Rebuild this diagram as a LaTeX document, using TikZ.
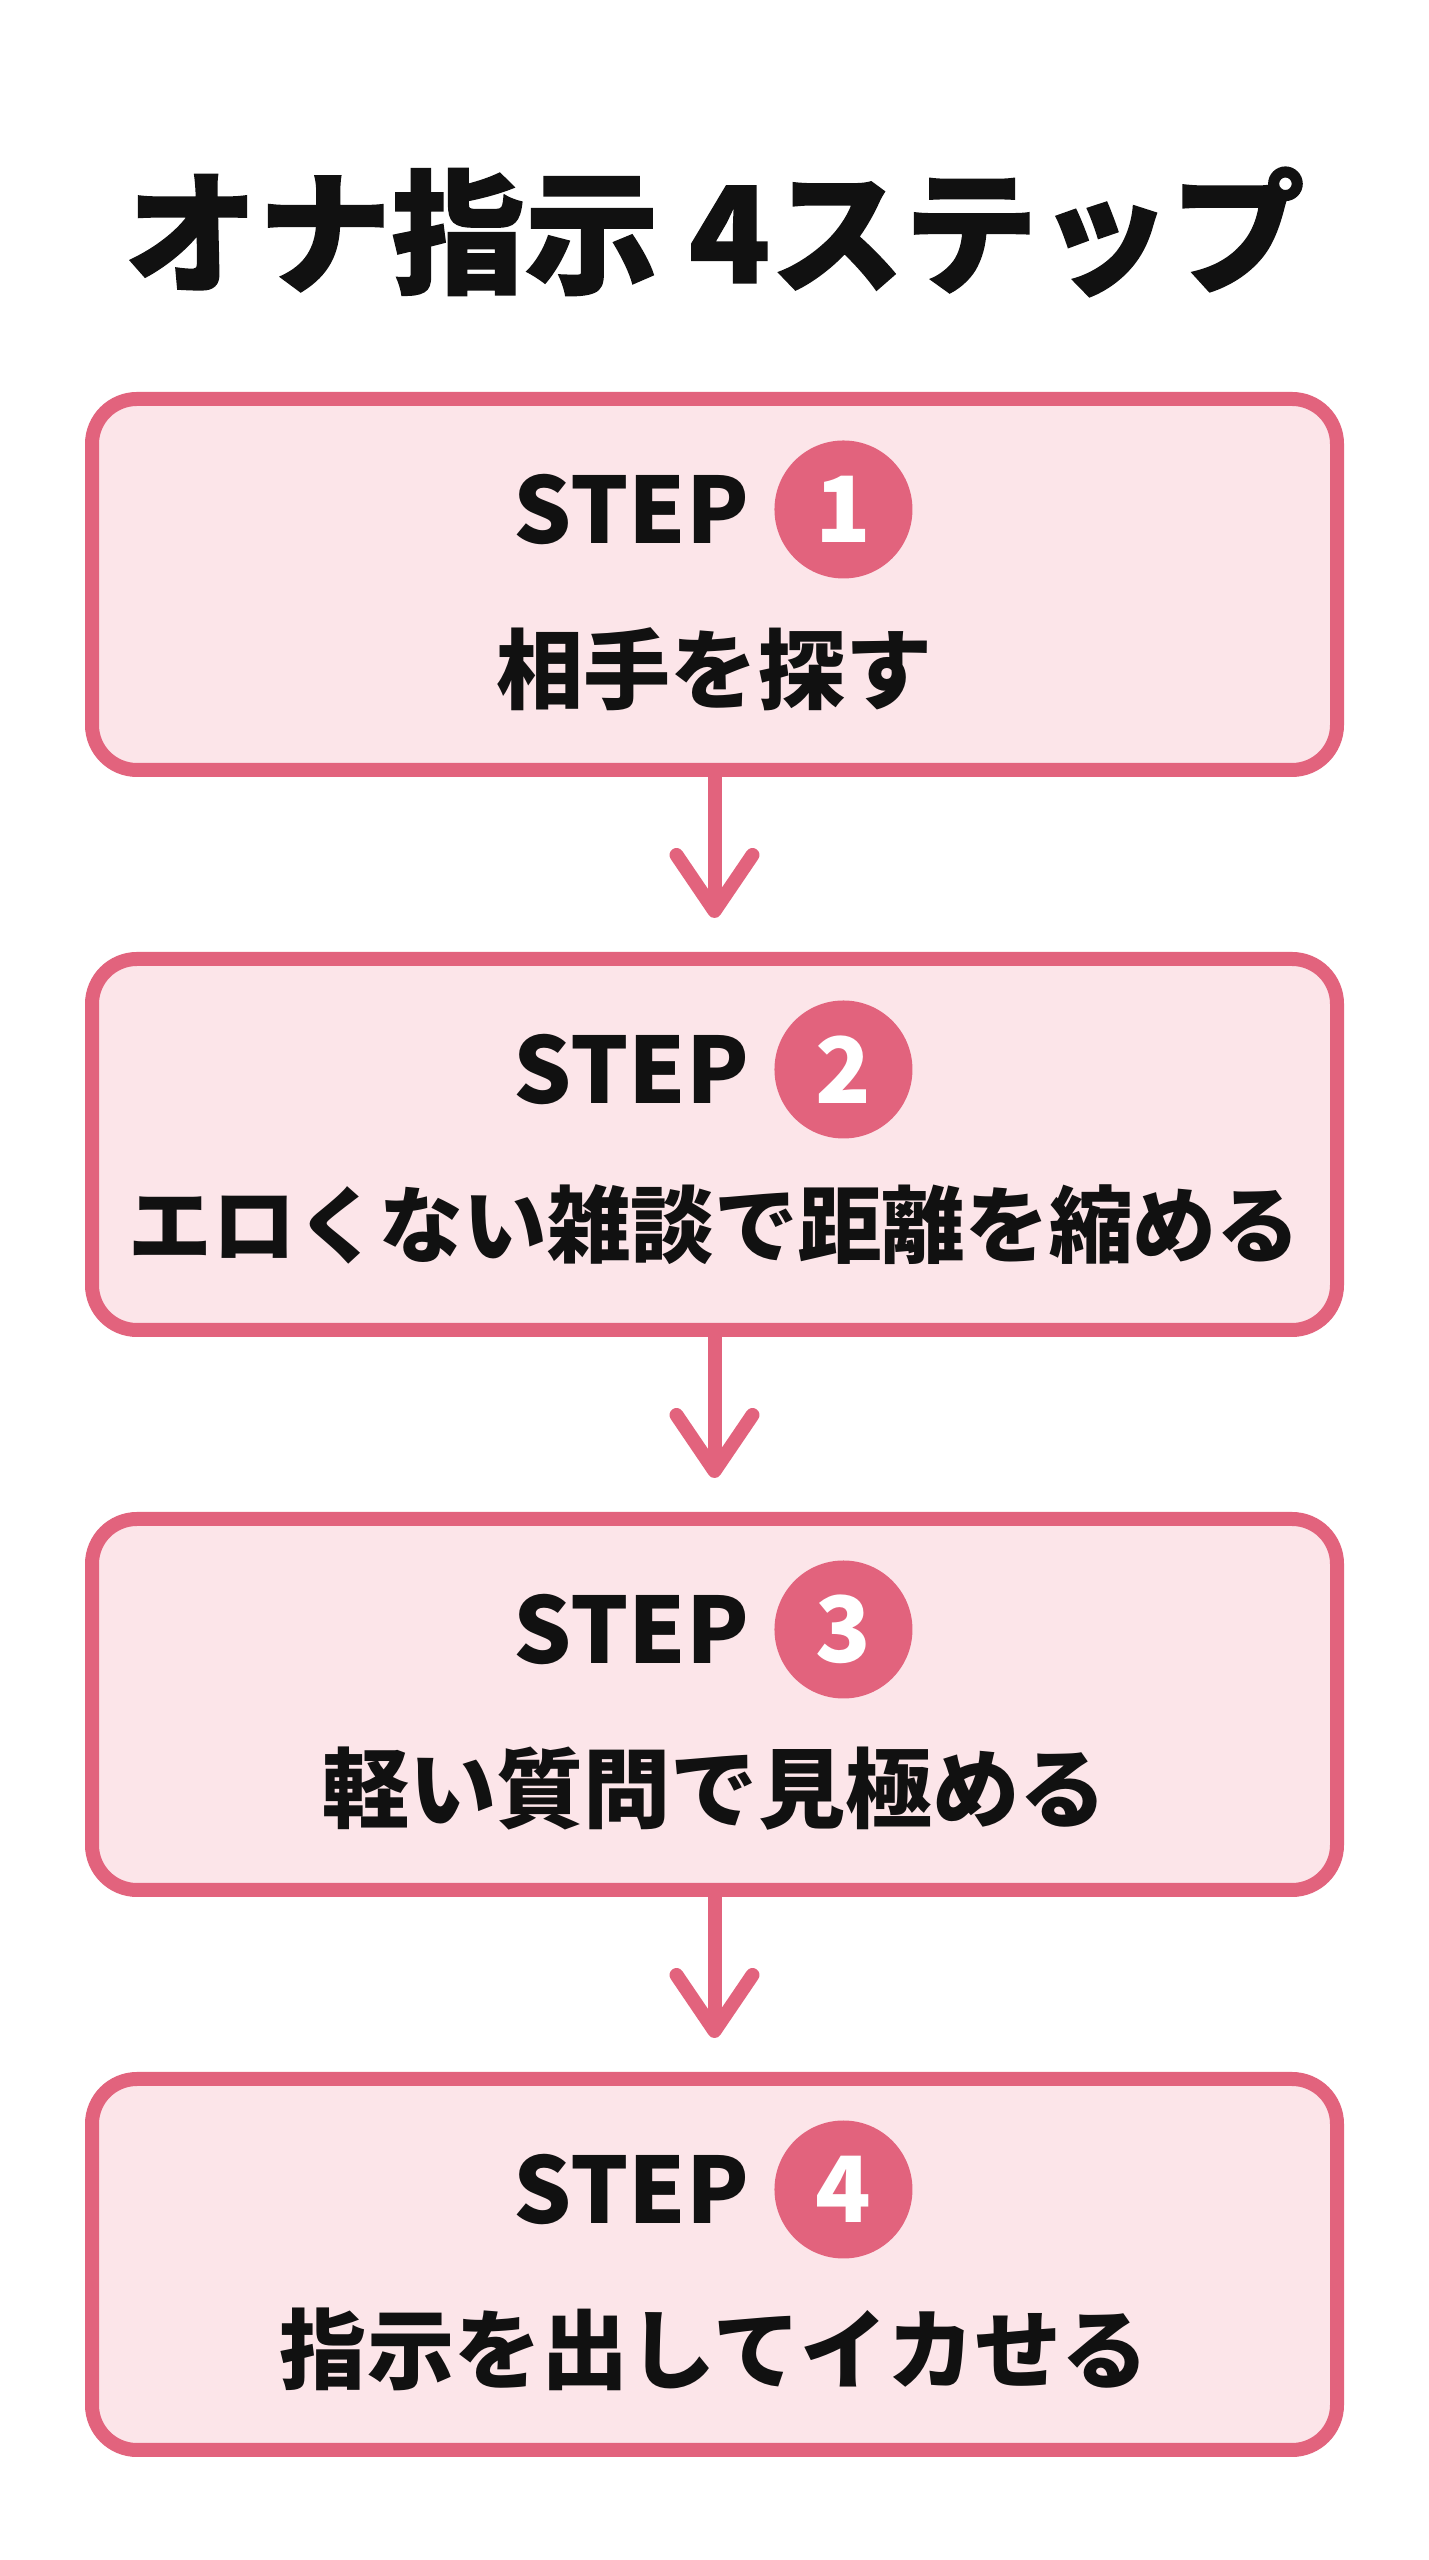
\documentclass[tikz,border=0pt]{standalone}
\usepackage{fontspec}
\setmainfont{Noto Sans CJK JP}
\newfontfamily\titlefont{Noto Sans CJK JP}[BoldFeatures={FakeBold=1.2}]
\usetikzlibrary{arrows.meta,positioning}
\definecolor{steppink}{HTML}{E2637D}
\definecolor{stepfill}{HTML}{FCE5E9}
\definecolor{stepink}{HTML}{111111}

\tikzset{
  stepbox/.style={draw=steppink, fill=stepfill, line width=0.14cm, rounded corners=0.45cm,
    minimum width=12.45cm, minimum height=3.71cm},
  steplabel/.style={inner sep=0pt, text=stepink, font=\fontsize{26}{26}\selectfont\bfseries},
  stepnum/.style={circle, fill=steppink, text=white, minimum size=1.38cm, inner sep=0pt,
    font=\fontsize{26}{26}\selectfont\bfseries},
  stepdesc/.style={inner sep=0pt, text=stepink, font=\fontsize{24.8}{25}\selectfont\bfseries},
  flow/.style={draw=steppink, line width=0.14cm, line cap=round, shorten >=0.34cm,
    -{Straight Barb[length=0.56cm,width=0.76cm,round]}}
}

\begin{document}
\begin{tikzpicture}
\fill[white] (0,0) rectangle (14.29,25.60);
\useasboundingbox (0,0) rectangle (14.29,25.60);

% title
\node[inner sep=0pt, text=stepink, font=\fontsize{38}{38}\selectfont\titlefont\bfseries] (title) at (7.145,23.28) {オナ指示 4ステップ};

% the four steps
\node[stepbox] (b1) at (7.145,19.755) {};
\node[stepbox] (b2) at (7.145,14.155) {};
\node[stepbox] (b3) at (7.145,8.555) {};
\node[stepbox] (b4) at (7.145,2.955) {};

\node[steplabel] (s1) at ([xshift=-0.83cm,yshift=0.75cm]b1.center) {STEP};
\node[stepnum, right=0.24cm of s1] (n1) {1};
\node[stepdesc] (d1) at ([yshift=-0.845cm]b1.center) {相手を探す};

\node[steplabel] (s2) at ([xshift=-0.83cm,yshift=0.75cm]b2.center) {STEP};
\node[stepnum, right=0.24cm of s2] (n2) {2};
\node[stepdesc, font=\fontsize{23.8}{24}\selectfont\bfseries] (d2) at ([yshift=-0.80cm]b2.center) {エロくない雑談で距離を縮める};

\node[steplabel] (s3) at ([xshift=-0.83cm,yshift=0.75cm]b3.center) {STEP};
\node[stepnum, right=0.24cm of s3] (n3) {3};
\node[stepdesc] (d3) at ([yshift=-0.845cm]b3.center) {軽い質問で見極める};

\node[steplabel] (s4) at ([xshift=-0.83cm,yshift=0.75cm]b4.center) {STEP};
\node[stepnum, right=0.24cm of s4] (n4) {4};
\node[stepdesc] (d4) at ([yshift=-0.845cm]b4.center) {指示を出してイカせる};

% arrows
\draw[flow] (b1.south) -- (b2.north);
\draw[flow] (b2.south) -- (b3.north);
\draw[flow] (b3.south) -- (b4.north);
\end{tikzpicture}
\end{document}
